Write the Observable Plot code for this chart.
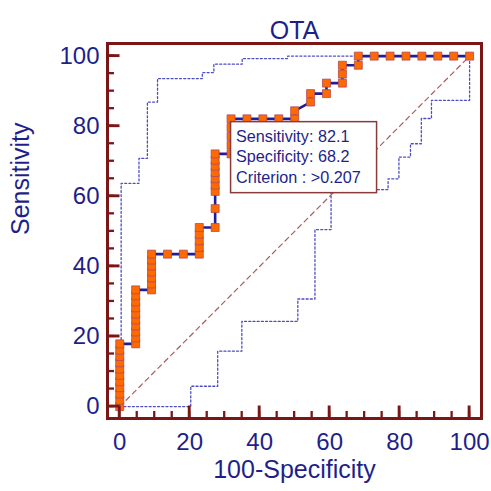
<!DOCTYPE html>
<html>
<head>
<meta charset="utf-8">
<script src="https://cdn.jsdelivr.net/npm/d3@7"></script>
<script src="https://cdn.jsdelivr.net/npm/@observablehq/plot@0.6"></script>
<style>
  html, body { margin: 0; padding: 0; background: #ffffff; }
</style>
</head>
<body>
<div id="chart"></div>
<script>
// ---- Data ----
const chartTitle = "OTA";
const xTitle = "100-Specificity";
const yTitle = "Sensitivity";

const majorTicks = [0, 20, 40, 60, 80, 100];
const minorTicks = [0, 5, 10, 15, 20, 25, 30, 35, 40, 45, 50, 55, 60, 65, 70, 75, 80, 85, 90, 95, 100];

// ROC curve points (100-Specificity, Sensitivity)
const rocX = [
  0, 0, 0, 0, 0, 0, 0, 0, 0, 0, 0,
  4.55, 4.55, 4.55, 4.55, 4.55, 4.55, 4.55, 4.55, 4.55, 4.55,
  9.09, 9.09, 9.09, 9.09, 9.09, 9.09, 9.09,
  13.64, 18.18,
  22.73, 22.73, 22.73, 22.73, 22.73,
  27.27, 27.27, 27.27, 27.27, 27.27, 27.27, 27.27, 27.27, 27.27,
  31.82, 31.82, 31.82, 31.82, 31.82,
  36.36, 40.91, 45.45,
  50, 50,
  54.55, 54.55,
  59.09, 59.09,
  63.64, 63.64, 63.64,
  68.18, 68.18,
  72.73, 77.27, 81.82, 86.36, 90.91, 95.45, 100
];
const rocY = [
  0, 1.8, 3.6, 5.4, 7.1, 8.9, 10.7, 12.5, 14.3, 16.1, 17.9,
  17.9, 19.6, 21.3, 23.0, 24.7, 26.4, 28.2, 29.9, 31.6, 33.3,
  33.3, 35.0, 36.7, 38.4, 40.1, 41.8, 43.5,
  43.5, 43.5,
  43.5, 45.4, 47.3, 49.2, 51.1,
  51.1, 56.5, 61.4, 63.2, 65.0, 66.8, 68.6, 70.3, 72.1,
  72.1, 74.6, 77.1, 79.6, 82.1,
  82.1, 82.1, 82.1,
  82.1, 84.4,
  86.9, 89.3,
  89.3, 92.3,
  92.3, 94.9, 97.4,
  97.4, 100,
  100, 100, 100, 100, 100, 100, 100
];

// Upper 95% confidence bound (dotted)
const upperX = [0.4, 0.4, 5.5, 5.5, 7.9, 7.9, 10.8, 10.8, 23.6, 23.6, 26.9, 26.9, 35, 35, 48, 48, 100];
const upperY = [0, 63.7, 63.7, 70.8, 70.8, 86.9, 86.9, 93.6, 93.6, 95.3, 95.3, 97.7, 97.7, 99.3, 99.3, 100, 100];

// Lower 95% confidence bound (dotted)
const lowerX = [0, 20.3, 20.3, 28, 28, 34.9, 34.9, 50.9, 50.9, 55.8, 55.8, 60.4, 60.4, 76.7, 76.7, 79.8, 79.8, 83.1, 83.1, 86.2, 86.2, 89.1, 89.1, 100, 100];
const lowerY = [0, 0, 5.8, 5.8, 15.8, 15.8, 24.3, 24.3, 30.7, 30.7, 50.5, 50.5, 61.9, 61.9, 65, 65, 71.2, 71.2, 75, 75, 82.2, 82.2, 87.4, 87.4, 100];

// Reference diagonal
const diagX = [0, 100];
const diagY = [0, 100];

// Highlighted criterion point and its label
const tipX = 31.82;
const tipY = 82.1;
const tipLines = ["Sensitivity: 82.1", "Specificity: 68.2", "Criterion : >0.207"];

// ---- Layout & styles ----
const W = 491, H = 491;
const mLeft = 107, mRight = 10, mTop = 43, mBottom = 73;
const xDomain = [-3.5, 103.4];
const yDomain = [-3.4, 103.6];

const navy = "#1f1f8a";
const frameColor = "#7a1616";
const lineColor = "#1e1e96";
const markerFill = "#ff6a00";
const markerStroke = "#b04a5a";
const bandColor = "#4d4dc4";
const diagColor = "#b05a5a";
const fontFamily = "'Liberation Sans', Arial, Helvetica, sans-serif";

const toRows = (xs, ys) => xs.map((x, i) => ({x, y: ys[i]}));
const roc = toRows(rocX, rocY);
const upper = toRows(upperX, upperY);
const lower = toRows(lowerX, lowerY);
const diag = toRows(diagX, diagY);

// Label box anchored at the criterion point through the plot's scales
function tipMark(index, scales) {
  const px = scales.x(tipX);
  const py = scales.y(tipY);
  const g = d3.create("svg:g");
  g.append("rect")
    .attr("x", px)
    .attr("y", py + 3.3)
    .attr("width", 146)
    .attr("height", 71)
    .attr("fill", "#ffffff")
    .attr("stroke", "#8b3a3a")
    .attr("stroke-width", 1.5);
  tipLines.forEach((t, i) => {
    g.append("text")
      .attr("x", px + 5.5)
      .attr("y", py + 3.3 + 20 + i * 20.5)
      .attr("fill", navy)
      .attr("text-anchor", "start")
      .attr("font-size", 16.2)
      .attr("font-family", fontFamily)
      .text(t);
  });
  return g.node();
}

// Inward ticks along bottom and left frame edges, placed with the plot's scales
const minorLen = 7, majorLen = 12.5;
function tickMarks(index, scales) {
  const x0 = scales.x(xDomain[0]);
  const y0 = scales.y(yDomain[0]);
  const g = d3.create("svg:g");
  const add = (ticks, len, sw) => ticks.forEach((t) => {
    const px = scales.x(t), py = scales.y(t);
    g.append("path")
      .attr("d", `M${px},${y0}V${y0 - len}`)
      .attr("stroke", frameColor).attr("stroke-width", sw).attr("fill", "none");
    g.append("path")
      .attr("d", `M${x0},${py}H${x0 + len}`)
      .attr("stroke", frameColor).attr("stroke-width", sw).attr("fill", "none");
  });
  add(minorTicks, minorLen, 2.3);
  add(majorTicks, majorLen, 2.9);
  return g.node();
}

const chart = Plot.plot({
  width: W,
  height: H,
  marginLeft: mLeft,
  marginRight: mRight,
  marginTop: mTop,
  marginBottom: mBottom,
  x: {domain: xDomain},
  y: {domain: yDomain},
  style: {fontFamily, background: "#ffffff", color: navy},
  marks: [
    Plot.line(lower, {x: "x", y: "y", stroke: bandColor, strokeWidth: 1.3, strokeDasharray: "2,2.2"}),
    Plot.line(upper, {x: "x", y: "y", stroke: bandColor, strokeWidth: 1.3, strokeDasharray: "2,2.2"}),
    Plot.line(diag, {x: "x", y: "y", stroke: diagColor, strokeWidth: 1.2, strokeDasharray: "5,4"}),
    Plot.line(roc, {x: "x", y: "y", stroke: lineColor, strokeWidth: 2.6}),
    Plot.dot(roc, {x: "x", y: "y", symbol: "square", r: 4.5, fill: markerFill, stroke: markerStroke, strokeWidth: 0.8}),
    tipMark,
    // tick labels
    Plot.axisX(majorTicks, {tickSize: 0, tickPadding: 14, fontSize: 24, fill: navy, label: null}),
    Plot.axisY(majorTicks, {tickSize: 0, tickPadding: 8, fontSize: 24, fill: navy, label: null}),
    // titles
    Plot.text([chartTitle], {frameAnchor: "top", dy: -22, fontSize: 25, fill: navy}),
    Plot.text([xTitle], {frameAnchor: "bottom", dy: 59, fontSize: 25, fill: navy}),
    Plot.text([yTitle], {frameAnchor: "left", dx: -87, dy: 4, rotate: -90, fontSize: 25, fill: navy}),
    Plot.frame({stroke: frameColor, strokeWidth: 3}),
    tickMarks
  ]
});

document.getElementById("chart").appendChild(chart);
</script>
</body>
</html>
